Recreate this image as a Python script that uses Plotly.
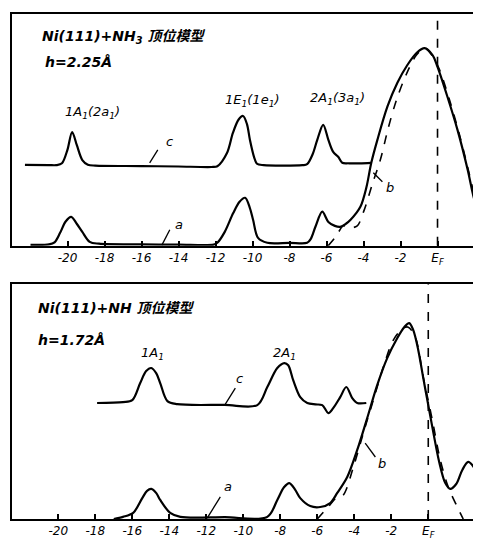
import plotly.graph_objects as go
from plotly.subplots import make_subplots

# ---------------- data (energy in eV relative to E_F, intensity arbitrary 0-100) -------------
E_F = 0.0

# Top panel: Ni(111)+NH3, h = 2.25 Å
top_c_x = [-22.3, -21.0, -20.6, -20.3, -20.0, -19.75, -19.5, -19.2, -18.9, -18.5, -16.0, -14.0,
           -12.2, -11.9, -11.38, -11.06, -10.75, -10.51, -10.3, -10.14, -9.92, -9.76, -9.4,
           -7.3, -7.05, -6.75, -6.5, -6.18, -5.9, -5.64, -5.37, -5.15, -4.8, -4.2, -3.58]
top_c_y = [34.9, 34.8, 34.8, 35.6, 41.5, 49.1, 43.5, 37.0, 35.0, 34.6, 34.4, 34.2,
           34.0, 34.3, 40.0, 48.7, 54.5, 56.0, 52.5, 45.7, 38.4, 35.4, 34.8,
           34.8, 35.2, 39.5, 45.7, 52.2, 45.7, 40.5, 38.4, 35.8, 35.6, 35.6, 35.8]

top_a_x = [-22.0, -21.0, -20.7, -20.4, -20.1, -19.8, -19.5, -19.2, -18.8, -18.3, -16.0, -14.0,
           -12.1, -11.9, -11.5, -11.05, -10.7, -10.4, -10.15, -9.97, -9.7, -9.2, -8.0,
           -7.05, -6.85, -6.6, -6.23, -5.9, -5.55, -5.26, -4.95, -4.7, -4.17, -3.85, -3.58,
           -3.25, -2.71, -2.17, -1.63, -1.08, -0.7, -0.27, 0.0, 0.54, 1.08, 1.63, 1.95, 2.38]
top_a_y = [0.4, 0.6, 1.5, 5.6, 10.5, 12.5, 9.5, 6.0, 1.7, 0.9, 0.6, 0.5,
           0.5, 1.3, 6.0, 14.0, 19.0, 20.7, 16.5, 11.2, 3.4, 1.3, 1.3,
           1.3, 3.0, 8.2, 14.7, 10.3, 8.6, 8.2, 9.5, 11.2, 16.8, 25.0, 35.8,
           45.7, 60.0, 70.3, 78.0, 83.6, 85.3, 82.3, 77.2, 64.2, 50.0, 32.8, 21.1, 9.9]

top_b_x = [-5.91, -5.47, -5.09, -4.72, -4.34, -3.96, -3.52, -3.09, -2.66, -2.22, -1.68, -1.14,
           -0.7, -0.27, 0.11, 0.65, 1.19, 1.73, 2.11, 2.38]
top_b_y = [0.0, 4.3, 8.6, 7.8, 8.6, 15.5, 26.7, 37.1, 50.9, 62.9, 74.1, 82.3,
           85.3, 81.9, 75.9, 62.9, 47.8, 30.6, 17.7, 10.3]

# Bottom panel: Ni(111)+NH, h = 1.72 Å
bot_c_x = [-17.9, -16.5, -16.0, -15.57, -15.25, -14.97, -14.7, -14.49, -14.1, -13.57, -11.0,
           -9.24, -8.7, -8.16, -7.78, -7.57, -7.3, -6.92, -6.54, -6.1, -5.73, -5.4, -5.14,
           -4.76, -4.43, -4.11, -3.84, -3.35]
bot_c_y = [49.4, 49.8, 50.6, 57.9, 63.0, 64.3, 62.0, 57.9, 50.2, 48.9, 48.6,
           48.5, 56.2, 64.3, 66.4, 65.5, 59.1, 51.9, 49.4, 48.8, 48.5, 45.1, 47.2,
           51.9, 56.2, 51.5, 49.4, 49.4]

bot_a_x = [-17.0, -16.5, -15.95, -15.46, -15.2, -14.97, -14.7, -14.49, -13.95, -13.4, -11.0,
           -8.7, -8.16, -7.8, -7.51, -7.2, -6.92, -6.38, -5.84, -5.3, -4.92, -4.38, -3.84,
           -3.3, -2.76, -2.22, -1.68, -1.3, -1.03, -0.81, -0.54, -0.27, 0.0, 0.27, 0.59,
           0.92, 1.19, 1.51, 1.84, 2.16, 2.49, 2.86]
bot_a_y = [0.0, 0.9, 2.6, 8.9, 12.0, 12.8, 11.0, 8.1, 2.6, 0.9, 0.8,
           0.9, 8.1, 13.5, 15.3, 12.5, 8.9, 5.5, 5.1, 6.8, 11.1, 17.9, 29.4,
           43.0, 57.0, 68.5, 77.0, 81.7, 83.4, 80.4, 71.9, 60.0, 48.5, 37.0, 24.3,
           15.3, 12.8, 14.9, 20.9, 24.3, 21.7, 14.9]

bot_b_x = [-6.0, -5.46, -4.92, -4.6, -4.05, -3.51, -2.97, -2.43, -1.89, -1.35, -1.08, -0.7,
           -0.27, 0.22, 0.65, 1.08, 1.57, 1.89]
bot_b_y = [0.0, 4.7, 9.4, 10.2, 22.1, 36.6, 50.6, 64.7, 76.2, 81.3, 81.7, 77.4,
           60.4, 42.1, 25.1, 13.6, 5.1, 0.0]

tick_vals = [-20, -18, -16, -14, -12, -10, -8, -6, -4, -2, 0]
tick_text = ["-20", "-18", "-16", "-14", "-12", "-10", "-8", "-6", "-4", "-2", "E<sub>F</sub>"]

# ---------------- figure ----------------
fig = make_subplots(rows=2, cols=1, vertical_spacing=0.0)

solid = dict(color="black", width=2.2, shape="spline", smoothing=0.9)
dashed = dict(color="black", width=1.6, dash="dash", shape="spline", smoothing=0.9)

for (cx, cy, ax_, ay_, bx, by, row) in [
    (top_c_x, top_c_y, top_a_x, top_a_y, top_b_x, top_b_y, 1),
    (bot_c_x, bot_c_y, bot_a_x, bot_a_y, bot_b_x, bot_b_y, 2),
]:
    fig.add_trace(go.Scatter(x=cx, y=cy, mode="lines", line=solid, showlegend=False), row=row, col=1)
    fig.add_trace(go.Scatter(x=ax_, y=ay_, mode="lines", line=solid, showlegend=False), row=row, col=1)
    fig.add_trace(go.Scatter(x=bx, y=by, mode="lines", line=dashed, showlegend=False), row=row, col=1)
    fig.add_trace(go.Scatter(x=[E_F, E_F], y=[0, 100], mode="lines",
                             line=dict(color="black", width=1.6, dash="dash"), showlegend=False),
                  row=row, col=1)

axis_common = dict(showgrid=False, zeroline=False, showline=True, linecolor="black", linewidth=2,
                   mirror=True, ticks="inside", ticklen=5, tickwidth=1.5, tickcolor="black",
                   tickvals=tick_vals, ticktext=tick_text,
                   tickfont=dict(family="DejaVu Sans", size=12, color="black", style="italic"))
fig.update_layout(
    xaxis=dict(range=[-23.0, 2.35], domain=[0, 1], **axis_common),
    xaxis2=dict(range=[-22.5, 2.85], domain=[0, 1], **axis_common),
    yaxis=dict(range=[0, 100], domain=[0.541, 1.0], showgrid=False, zeroline=False,
               showticklabels=False, showline=True, linecolor="black", linewidth=2),
    yaxis2=dict(range=[0, 100], domain=[0.0, 0.465], showgrid=False, zeroline=False,
                showticklabels=False, showline=True, linecolor="black", linewidth=2),
    width=473, height=536,
    margin=dict(l=4, r=0, t=6, b=25),
    paper_bgcolor="white", plot_bgcolor="white",
)

f_it = dict(family="DejaVu Sans, Noto Sans CJK SC", size=13, color="black", style="italic")
f_title = dict(family="DejaVu Sans, Noto Sans CJK SC", size=14, color="black", style="italic",
               weight="bold")

anns = [
    # top panel
    ("x", "y", -21.5, 90, "Ni(111)+NH<sub>3</sub> 顶位模型", f_title, "left"),
    ("x", "y", -21.3, 79.3, "h=2.25Å", f_title, "left"),
    ("x", "y", -18.65, 57.3, "1A<sub>1</sub>(2a<sub>1</sub>)", f_it, "center"),
    ("x", "y", -10.0, 62.9, "1E<sub>1</sub>(1e<sub>1</sub>)", f_it, "center"),
    ("x", "y", -5.42, 63.4, "2A<sub>1</sub>(3a<sub>1</sub>)", f_it, "center"),
    ("x", "y", -14.5, 45.0, "c", f_it, "center"),
    ("x", "y", -14.0, 9.0, "a", f_it, "center"),
    ("x", "y", -2.55, 25.0, "b", f_it, "center"),
    # bottom panel
    ("x2", "y2", -21.2, 89.8, "Ni(111)+NH 顶位模型", f_title, "left"),
    ("x2", "y2", -21.2, 76.2, "h=1.72Å", f_title, "left"),
    ("x2", "y2", -14.9, 70.5, "1A<sub>1</sub>", f_it, "center"),
    ("x2", "y2", -7.78, 70.5, "2A<sub>1</sub>", f_it, "center"),
    ("x2", "y2", -10.2, 60.0, "c", f_it, "center"),
    ("x2", "y2", -10.8, 14.0, "a", f_it, "center"),
    ("x2", "y2", -2.5, 23.5, "b", f_it, "center"),
]
for xr, yr, x, y, t, f, xa in anns:
    fig.add_annotation(xref=xr, yref=yr, x=x, y=y, text=t, font=f, showarrow=False, xanchor=xa)

# leader lines for curve labels
leaders = [
    ("x", "y", -15.56, 35.8, -15.12, 41.4),
    ("x", "y", -14.9, 0.3, -14.47, 6.9),
    ("x", "y", -3.47, 31.5, -2.98, 27.6),
    ("x2", "y2", -10.97, 48.9, -10.43, 55.7),
    ("x2", "y2", -11.95, 0.4, -11.24, 9.4),
    ("x2", "y2", -3.41, 32.3, -2.86, 26.4),
]
for xr, yr, x0, y0, x1, y1 in leaders:
    fig.add_shape(type="line", xref=xr, yref=yr, x0=x0, y0=y0, x1=x1, y1=y1,
                  line=dict(color="black", width=1.3))

fig.write_html("out.html")
